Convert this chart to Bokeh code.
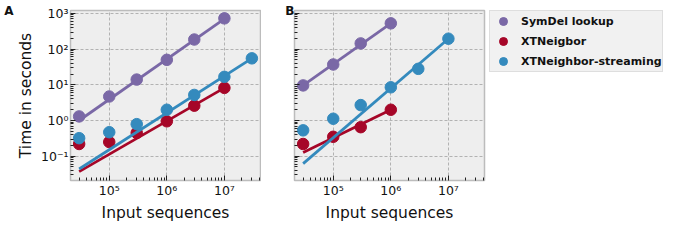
from bokeh.plotting import figure
from bokeh.models import (Range1d, FixedTicker, CustomJSTickFormatter,
                          Legend, LegendItem, LinearAxis)
from bokeh.layouts import row
from bokeh.embed import file_html
from bokeh.resources import INLINE

# ---------------- data ----------------
series_names = ["SymDel lookup", "XTNeigbor", "XTNeighbor-streaming"]
series_colors = ["#7A68A6", "#A60628", "#348ABD"]

# Panel A
a_symdel_x = [3e4, 1e5, 3e5, 1e6, 3e6, 1e7]
a_symdel_y = [1.3, 4.7, 14, 50, 185, 725]
a_xtn_x = [3e4, 1e5, 3e5, 1e6, 3e6, 1e7]
a_xtn_y = [0.22, 0.25, 0.45, 0.95, 2.6, 8.2]
a_stream_x = [3e4, 1e5, 3e5, 1e6, 3e6, 1e7, 3e7]
a_stream_y = [0.32, 0.47, 0.79, 2.0, 5.2, 16.7, 55]

a_symdel_fit_x = [3e4, 1e7]
a_symdel_fit_y = [1.0, 700]
a_xtn_fit_x = [3e4, 1e7]
a_xtn_fit_y = [0.037, 8.2]
a_stream_fit_x = [3e4, 3e7]
a_stream_fit_y = [0.044, 55]

# Panel B
b_symdel_x = [3e4, 1e5, 3e5, 1e6]
b_symdel_y = [9.6, 37, 144, 525]
b_xtn_x = [3e4, 1e5, 3e5, 1e6]
b_xtn_y = [0.22, 0.35, 0.65, 2.0]
b_stream_x = [3e4, 1e5, 3e5, 1e6, 3e6, 1e7]
b_stream_y = [0.53, 1.12, 2.7, 8.5, 28, 195]

b_symdel_fit_x = [3e4, 1e6]
b_symdel_fit_y = [9.6, 525]
b_xtn_fit_x = [3e4, 1e6]
b_xtn_fit_y = [0.128, 2.0]
b_stream_fit_x = [3e4, 1e7]
b_stream_fit_y = [0.062, 195]

x_major_ticks = [1e5, 1e6, 1e7]
y_major_ticks = [0.1, 1, 10, 100, 1000]
x_label = "Input sequences"
y_label = "Time in seconds"
panel_labels = ["A", "B"]

# ---------------- styling helpers ----------------
FONT = "DejaVu Sans"
x_minor = [k * 10 ** e for e in range(4, 8) for k in range(2, 10)]
y_minor = [k * 10 ** e for e in range(-2, 3) for k in range(2, 10)]

sup_js = """
const sup = {"-": "\u207b", "0": "\u2070", "1": "\u00b9", "2": "\u00b2", "3": "\u00b3",
             "4": "\u2074", "5": "\u2075", "6": "\u2076", "7": "\u2077", "8": "\u2078", "9": "\u2079"};
const e = Math.round(Math.log10(tick));
return "10" + String(e).split("").map(c => sup[c]).join("");
"""

x_range = Range1d(10 ** 4.327, 10 ** 7.627)
y_range = Range1d(10 ** -1.68, 10 ** 3.08)


def panel_axis(text):
    ax = LinearAxis(axis_label=text, ticker=FixedTicker(ticks=[]),
                    bounds=(0.03, 10 ** 2.9),
                    axis_line_color=None, major_tick_line_color=None,
                    minor_tick_line_color=None, major_label_text_font_size="0px",
                    major_tick_in=0, major_tick_out=0, minor_tick_in=0, minor_tick_out=0,
                    major_label_standoff=0, axis_label_standoff=0)
    ax.axis_label_orientation = "horizontal"
    ax.axis_label_align = "end"
    ax.axis_label_text_font = FONT
    ax.axis_label_text_font_style = "bold"
    ax.axis_label_text_font_size = "12px"
    ax.axis_label_text_color = "#111111"
    return ax


def style(p, show_ylabels):
    p.background_fill_color = "#eeeeee"
    p.border_fill_color = "white"
    p.outline_line_color = "#bcbcbc"
    p.outline_line_width = 1.5
    for ax in (p.xaxis[0], p.yaxis[0]):
        ax.axis_line_color = None
        ax.major_tick_in = 5
        ax.major_tick_out = 0
        ax.minor_tick_in = 3
        ax.minor_tick_out = 0
        ax.major_tick_line_color = "#222222"
        ax.minor_tick_line_color = "#222222"
        ax.major_label_text_font = FONT
        ax.major_label_text_font_size = "12.5px"
        ax.major_label_text_color = "#111111"
        ax.major_label_standoff = 2
        ax.axis_label_text_font = FONT
        ax.axis_label_text_font_size = "15.5px"
        ax.axis_label_text_font_style = "normal"
        ax.axis_label_text_color = "#111111"
        ax.axis_label_standoff = 3
    p.xaxis[0].ticker = FixedTicker(ticks=x_major_ticks, minor_ticks=x_minor)
    p.yaxis[0].ticker = FixedTicker(ticks=y_major_ticks, minor_ticks=y_minor)
    p.xaxis[0].formatter = CustomJSTickFormatter(code=sup_js)
    p.xaxis[0].axis_label = x_label
    if show_ylabels:
        p.yaxis[0].formatter = CustomJSTickFormatter(code=sup_js)
        p.yaxis[0].axis_label = y_label
    else:
        p.yaxis[0].formatter = CustomJSTickFormatter(code="return '';")
        p.yaxis[0].major_label_standoff = 0
        p.yaxis[0].major_label_text_font_size = "0px"
    for g in (p.xgrid[0], p.ygrid[0]):
        g.grid_line_color = "#b2b2b2"
        g.grid_line_dash = "3 2"
        g.grid_line_width = 1


def draw(p, pts, fits):
    rends = []
    for (xs, ys), (fx, fy), c in zip(pts, fits, series_colors):
        p.line(fx, fy, line_color=c, line_width=2.8)
        r = p.scatter(xs, ys, size=11.5, fill_color=c, line_color=c)
        rends.append(r)
    return rends


common = dict(height=224, x_axis_type="log", y_axis_type="log",
              x_range=x_range, y_range=y_range,
              output_backend="svg", toolbar_location=None,
              min_border_top=4, min_border_bottom=37)

pA = figure(width=261, min_border_left=70, min_border_right=1, **common)
style(pA, True)
draw(pA, [(a_symdel_x, a_symdel_y), (a_xtn_x, a_xtn_y), (a_stream_x, a_stream_y)],
     [(a_symdel_fit_x, a_symdel_fit_y), (a_xtn_fit_x, a_xtn_fit_y),
      (a_stream_fit_x, a_stream_fit_y)])
pA.add_layout(panel_axis(panel_labels[0]), "left")

pB = figure(width=227, min_border_left=33, min_border_right=4, **common)
style(pB, False)
draw(pB, [(b_symdel_x, b_symdel_y), (b_xtn_x, b_xtn_y), (b_stream_x, b_stream_y)],
     [(b_symdel_fit_x, b_symdel_fit_y), (b_xtn_fit_x, b_xtn_fit_y),
      (b_stream_fit_x, b_stream_fit_y)])
pB.add_layout(panel_axis(panel_labels[1]), "left")

# legend lives in its own small figure (no axes, no frame); its key renderers
# hold each series' first point, which falls outside this figure's range
pL = figure(width=176, height=224, x_range=Range1d(0, 1), y_range=Range1d(0, 1),
            x_axis_location=None, y_axis_location=None,
            output_backend="svg", toolbar_location=None,
            min_border_left=1, min_border_right=0, min_border_top=10, min_border_bottom=0)
pL.outline_line_color = None
pL.grid.visible = False
pL.background_fill_color = "white"
pL.border_fill_color = "white"
key_pts = [(b_symdel_x, b_symdel_y), (b_xtn_x, b_xtn_y), (b_stream_x, b_stream_y)]
legend_rends = [pL.scatter(xs[:1], ys[:1], size=11.5, fill_color=c, line_color=c)
                for (xs, ys), c in zip(key_pts, series_colors)]

legend = Legend(items=[LegendItem(label=n, renderers=[r]) for n, r in zip(series_names, legend_rends)],
                location="top_left", glyph_width=26, glyph_height=20, label_height=20,
                spacing=-3, padding=0, margin=0, label_standoff=5,
                label_text_font=FONT, label_text_font_style="bold",
                label_text_font_size="11px", label_text_color="#111111",
                background_fill_color="#f1f1f1", background_fill_alpha=1.0,
                border_line_color="#cccccc", border_line_width=1)
pL.add_layout(legend)

layout = row(pA, pB, pL)
open("out.html", "w").write(file_html(layout, INLINE))
